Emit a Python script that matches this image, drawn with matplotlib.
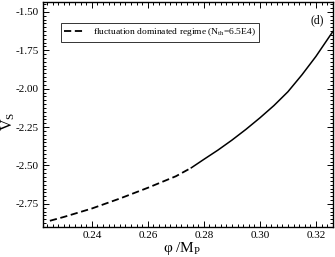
import numpy as np
import matplotlib
matplotlib.use("Agg")
import matplotlib.pyplot as plt
from matplotlib.ticker import MultipleLocator

plt.rcParams['font.family'] = ['Liberation Serif', 'DejaVu Serif']
plt.rcParams['mathtext.fontset'] = 'custom'
plt.rcParams['mathtext.rm'] = 'Liberation Serif'
plt.rcParams['mathtext.it'] = 'Liberation Serif:italic'

# values
phi_fluct = [0.225, 0.230, 0.240, 0.250, 0.260, 0.270, 0.2755]
vs_fluct = [-2.86, -2.835, -2.78, -2.715, -2.645, -2.57, -2.515]
phi_main = [0.2755, 0.280, 0.285, 0.290, 0.295, 0.300, 0.305, 0.310, 0.315, 0.320, 0.326]
vs_main = [-2.515, -2.46, -2.40, -2.335, -2.265, -2.19, -2.11, -2.02, -1.91, -1.79, -1.629]

legend_label = 'fluctuation dominated regime (N$_{\\mathrm{th}}$=6.5E4)'

fig = plt.figure(figsize=(3.35, 2.57), dpi=100)
ax = fig.add_axes([0.128, 0.117, 0.866, 0.875])

ax.plot(phi_fluct, vs_fluct, color='black', lw=1.3, ls=(0, (4, 2)), label=legend_label)
ax.plot(phi_main, vs_main, color='black', lw=1.1)

ax.set_xlim(0.2225, 0.3261)
ax.set_ylim(-2.90, -1.436)
ax.xaxis.set_major_locator(MultipleLocator(0.02))
ax.xaxis.set_minor_locator(MultipleLocator(0.002))
ax.yaxis.set_major_locator(MultipleLocator(0.25))
ax.yaxis.set_minor_locator(MultipleLocator(0.025))
ax.xaxis.set_major_formatter(plt.FormatStrFormatter('%.2f'))
ax.yaxis.set_major_formatter(plt.FormatStrFormatter('%.2f'))
ax.tick_params(which='both', direction='in', top=True, right=True, labelsize=8, width=0.7)
ax.tick_params(which='major', length=4, pad=3)
ax.tick_params(which='minor', length=2)
for s in ax.spines.values():
    s.set_linewidth(1.0)

ax.set_xlabel('φ /M$_{\\mathrm{P}}$', fontsize=11)
ax.xaxis.set_label_coords(0.48, -0.058)
ax.set_ylabel('V$_{\\mathrm{S}}$', fontsize=11.5)
ax.yaxis.set_label_coords(-0.09, 0.47)
ax.text(0.945, 0.92, '(d)', transform=ax.transAxes, fontsize=8.5, ha='center', va='center')

leg = ax.legend(loc='upper left', bbox_to_anchor=(0.062, 0.907), borderaxespad=0,
                fontsize=6.8, frameon=True, fancybox=False, handlelength=2.2,
                handletextpad=0.8, borderpad=0.35)
leg.get_frame().set_edgecolor('black')
leg.get_frame().set_linewidth(0.7)

fig.savefig('out.png', dpi=100)
